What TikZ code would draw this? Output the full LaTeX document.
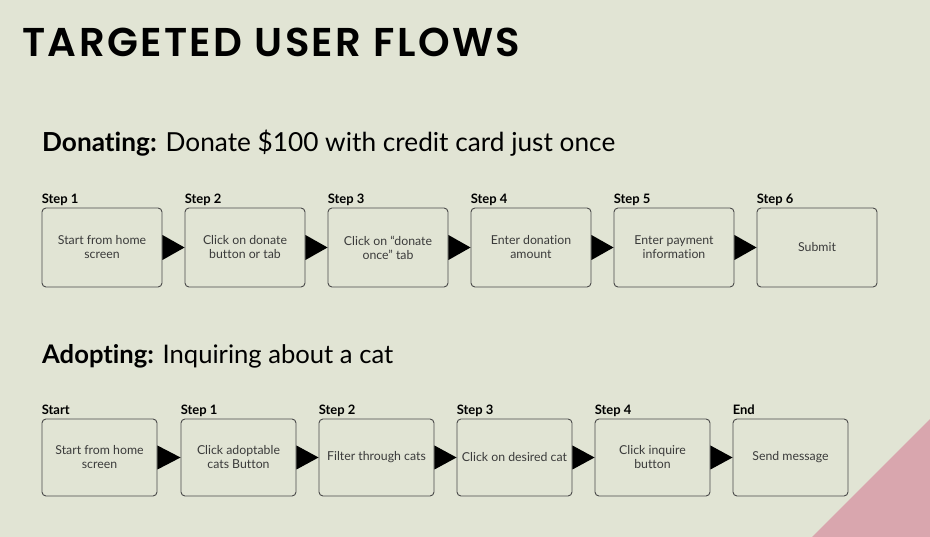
\documentclass[tikz,border=0pt]{standalone}
\usepackage{fontspec}
\setmainfont{Lato}[Ligatures={NoCommon}]
\newfontfamily\titlefont{Poppins SemiBold}
\usetikzlibrary{calc}
\definecolor{paper}{HTML}{E1E4D4}
\definecolor{blush}{HTML}{D9A6AE}
\definecolor{ink}{HTML}{3A3A3A}
\definecolor{frame}{HTML}{4A4A4A}
\tikzset{
  stepbox/.style={draw=frame, line width=0.9pt, rounded corners=4pt, fill=paper,
    minimum width=#1, minimum height=79pt, inner sep=2pt, align=center,
    font=\fontsize{12.3}{14}\selectfont, text=ink},
  steplabel/.style={anchor=base west, inner sep=0pt, font=\bfseries\fontsize{13}{14}\selectfont},
  heading/.style={anchor=base west, inner sep=0pt, font=\fontsize{24}{28}\selectfont},
  pointer/.style={fill=black}
}
\begin{document}
\begin{tikzpicture}[x=1pt, y=-1pt]
  \useasboundingbox (0,0) rectangle (930,537);
  \fill[paper] (0,0) rectangle (930,537);
  \fill[blush] (812,537) -- (930,419) -- (930,537) -- cycle;

  % title and section headings
  \node[anchor=base west, inner sep=0pt] (title) at (22,57)
    {\resizebox{498pt}{!}{\titlefont\addfontfeatures{LetterSpace=6}TARGETED USER FLOWS}};
  \node[heading] (donating) at (42,152) {\resizebox{573pt}{!}{\textbf{Donating:} Donate \$100 with credit card just once}};
  \node[heading] (adopting) at (42,364) {\resizebox{351pt}{!}{\textbf{Adopting:} Inquiring about a cat}};

  % donation flow
  \foreach \i/\lab/\txt in {1/Step 1/Start from home\\screen,
                            2/Step 2/Click on donate\\button or tab,
                            3/Step 3/Click on “donate\\once” tab,
                            4/Step 4/Enter donation\\amount,
                            5/Step 5/Enter payment\\information,
                            6/Step 6/Submit} {
    \node[stepbox=120pt] (d\i) at ({102+143*(\i-1)},247.5) {\txt};
    \node[steplabel] (dl\i) at ($(d\i.north west)+(0,-4)$) {\lab};
  }
  \foreach \a/\b in {1/2,2/3,3/4,4/5,5/6}
    \fill[pointer] ($(d\a.east)+(0,-12.5)$) -- (d\b.west) -- ($(d\a.east)+(0,12.5)$) -- cycle;

  % adoption flow
  \foreach \i/\x/\lab/\txt in {1/99.5/Start/Start from home\\screen,
                               2/238.5/Step 1/Click adoptable\\cats Button,
                               3/376.5/Step 2/Filter through cats,
                               4/514.5/Step 3/Click on desired cat,
                               5/652.5/Step 4/Click inquire\\button,
                               6/790.5/End/Send message} {
    \node[stepbox=115pt, minimum height=77pt] (a\i) at (\x,457.5) {\txt};
    \node[steplabel] (al\i) at ($(a\i.north west)+(0,-4)$) {\lab};
  }
  \foreach \a/\b in {1/2,2/3,3/4,4/5,5/6}
    \fill[pointer] ($(a\a.east)+(0,-12)$) -- (a\b.west) -- ($(a\a.east)+(0,12)$) -- cycle;
\end{tikzpicture}
\end{document}
